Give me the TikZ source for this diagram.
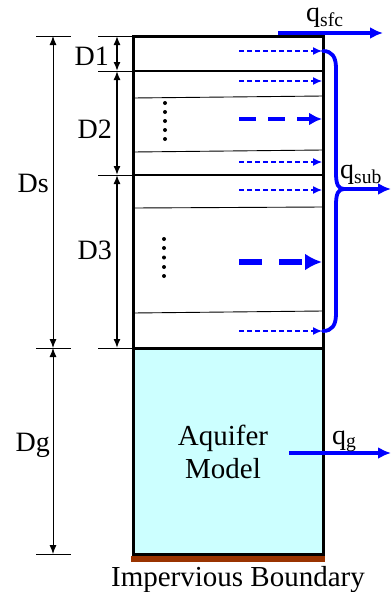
\documentclass[tikz,border=0pt]{standalone}
\usepackage{fontspec}
\setmainfont{Liberation Serif}
\newfontfamily\timesfont{Liberation Serif}
\usetikzlibrary{arrows.meta, positioning, calc}
\definecolor{aquifer}{RGB}{204,255,255}
\definecolor{bedrock}{RGB}{153,51,0}

\begin{document}
\begin{tikzpicture}[
  x=1pt, y=-1pt,
  txt/.style={font=\timesfont\fontsize{28}{33}\selectfont, inner sep=0pt},
  bigtxt/.style={font=\timesfont\fontsize{29}{33}\selectfont, inner sep=0pt},
  wall/.style={line width=3pt},
  layerline/.style={line width=2.6pt},
  subline/.style={line width=0.9pt},
  tick/.style={line width=0.8pt},
  dimarrow/.style={{Latex[length=9pt,width=7pt]}-{Latex[length=9pt,width=7pt]}, line width=1.4pt},
  dimarrowthin/.style={{Latex[length=9pt,width=7pt]}-{Latex[length=9pt,width=7pt]}, line width=0.9pt},
  flux/.style={blue, line width=3.8pt, -{Latex[length=13pt,width=12pt]}},
  seep/.style={blue, line width=1.2pt, dash pattern=on 5pt off 3pt, -{Latex[length=9pt,width=8pt]}},
  seepbig/.style={blue, line width=4.5pt, dash pattern=on 17pt off 12pt, -{Latex[length=13pt,width=13pt]}},
  seephuge/.style={blue, line width=6pt, dash pattern=on 23pt off 17pt, -{Latex[length=17pt,width=17pt]}},
  brace/.style={blue, line width=3.8pt, line cap=round},
  dotmark/.style={circle, fill, inner sep=0pt, minimum size=4pt}
]
\useasboundingbox (0,0) rectangle (391,592);

\coordinate (top) at (133,36);
\coordinate (topR) at (323,36);
\coordinate (soilB) at (133,348);
\coordinate (soilBR) at (323,348);
\coordinate (botR) at (323,554);

\filldraw[wall, fill=aquifer] (soilB) rectangle (botR);
\fill[bedrock] (131,555.5) rectangle (325,562);

\draw[layerline] (133,71) -- (323,71);
\draw[layerline] (133,175) -- (323,175);
\draw[subline] (133,98) -- (323,96);
\draw[subline] (133,152) -- (323,150);
\draw[subline] (133,208) -- (323,207);
\draw[subline] (133,313) -- (323,311);
\draw[wall] (top) rectangle (soilBR);

\foreach \y in {103,112,121,130,139} \node[dotmark] at (165,\y) {};
\foreach \y in {239,248,257.5,267,276} \node[dotmark] at (164,\y) {};

\foreach \y in {36,71,175,348} \draw[tick] (98,\y) -- (133,\y);
\foreach \y in {36,348,554} \draw[tick] (36,\y) -- (71,\y);

\draw[dimarrow] (117,36) coordinate (d1a) -- (117,71) coordinate (d1b);
\draw[dimarrow] (117,71) coordinate (d2a) -- (117,175) coordinate (d2b);
\draw[dimarrow] (117,175) coordinate (d3a) -- (117,348) coordinate (d3b);
\draw[dimarrowthin] (53,36) coordinate (dsa) -- (53,348) coordinate (dsb);
\draw[dimarrowthin] (53,348) coordinate (dga) -- (53,554) coordinate (dgb);

\node[txt, anchor=base east] (d1lbl) at (109,65) {D1};
\node[txt, anchor=base east] (d2lbl) at (112,138) {D2};
\node[txt, anchor=base east] (d3lbl) at (112,259) {D3};
\node[txt, anchor=base east] (dslbl) at (49,192) {Ds};
\node[txt, anchor=base east] (dglbl) at (50,451) {Dg};

\node[bigtxt, align=center] (aqlbl) at (223,452) {Aquifer\\Model};
\node[bigtxt, anchor=base] (implbl) at (238,586) {Impervious Boundary};

\foreach \y in {51,81,162,190,331} \draw[seep] (239,\y) -- (322,\y);
\draw[seepbig] (239,119) coordinate (s2) -- (322,119) coordinate (e2);
\draw[seephuge] (239,262) coordinate (s3) -- (322,262) coordinate (e3);

\coordinate (bt) at (323,51);
\coordinate (bb) at (323,331);
\coordinate (cusp) at (344,189);
\draw[brace] (bt) .. controls (332,51) and (336,57) .. (336,68) -- (336,173)
  .. controls (336,184) and (338,189) .. (cusp) .. controls (338,189) and (336,194) .. (336,205)
  -- (336,314) .. controls (336,325) and (332,331) .. (bb);

\coordinate (sfcA) at (278,33);
\coordinate (sfcB) at (383,33);
\coordinate (subB) at (391,189);
\coordinate (gA) at (289,453);
\coordinate (gB) at (391,453);
\draw[flux] (sfcA) -- (sfcB);
\draw[flux] (cusp) -- (subB);
\draw[flux] (gA) -- (gB);

\node[txt, anchor=base west] (qsfc) at (306,21) {q\textsubscript{sfc}};
\node[txt, anchor=base west] (qsub) at (340,178) {q\textsubscript{sub}};
\node[txt, anchor=base west] (qg) at (332,444) {q\textsubscript{g}};
\end{tikzpicture}
\end{document}
